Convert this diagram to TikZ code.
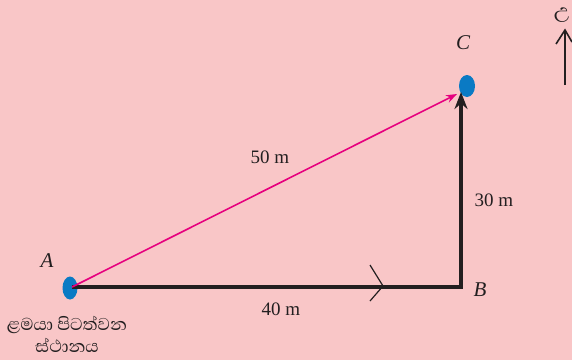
\documentclass[tikz,border=0pt]{standalone}
\usepackage{fontspec}
\setmainfont{Liberation Serif}
\newfontfamily\sinhala[Script=Sinhala]{Abhaya Libre}
\usetikzlibrary{arrows.meta,shapes.geometric}
\definecolor{bgpink}{HTML}{F9C6C7}
\definecolor{dotblue}{HTML}{0A7AC4}
\definecolor{mag}{HTML}{E6007E}
\definecolor{ink}{HTML}{231F20}
\begin{document}
\begin{tikzpicture}[x=1pt,y=-1pt,
  lbl/.style={font=\fontsize{19}{21}\selectfont,text=ink,inner sep=0pt},
  ilbl/.style={font=\itshape\fontsize{21}{23}\selectfont,text=ink,inner sep=0pt},
  slbl/.style={font=\sinhala\fontsize{22}{24}\selectfont,text=ink,inner sep=0pt,align=center},
  thick line/.style={draw=ink,line width=3.8pt},
]
\fill[bgpink] (0,0) rectangle (572,360);
\useasboundingbox (0,0) rectangle (572,360);
% points
\coordinate (A) at (72,287);
\coordinate (B) at (461,287);
\coordinate (Ctip) at (461,92);
\node[ellipse,fill=dotblue,minimum width=15pt,minimum height=23pt,inner sep=0pt] (dA) at (70,288) {};
\node[ellipse,fill=dotblue,minimum width=16pt,minimum height=22pt,inner sep=0pt] (dC) at (467,86) {};
% legs
\draw[thick line,line join=miter] (A) -- (B) -- (461,112);
\draw[ink,line width=3.8pt,-{Stealth[length=17pt,width=13pt]}] (461,115) -- (Ctip);
% chevron
\coordinate (chv) at (383,286);
\draw[ink,line width=1.2pt] (370,265) -- (chv) -- (370,301);
% hypotenuse
\draw[mag,line width=1.6pt,-{Stealth[length=11pt,width=8pt]}] (A) -- (457,94);
% labels
\node[ilbl] (lC) at (463,43) {C};
\node[ilbl] (lA) at (47,261) {A};
\node[ilbl] (lB) at (480,290) {B};
\node[lbl] (l50) at (270,157) {50 m};
\node[lbl] (l30) at (494,200) {30 m};
\node[lbl] (l40) at (281,309) {40 m};
\node[slbl] (s1) at (67,325) {ළමයා පිටත්වන};
\node[slbl] (s2) at (67,345) {ස්ථානය};
% north arrow
\coordinate (n0) at (565,85);
\coordinate (n1) at (565,30);
\draw[ink,line width=1.6pt] (n0) -- (n1);
\draw[ink,line width=1.6pt] (556,44) -- (n1) -- (572,42);
\node[slbl,font=\sinhala\fontsize{26}{28}\selectfont] (nN) at (562,15) {උ};
\end{tikzpicture}
\end{document}
